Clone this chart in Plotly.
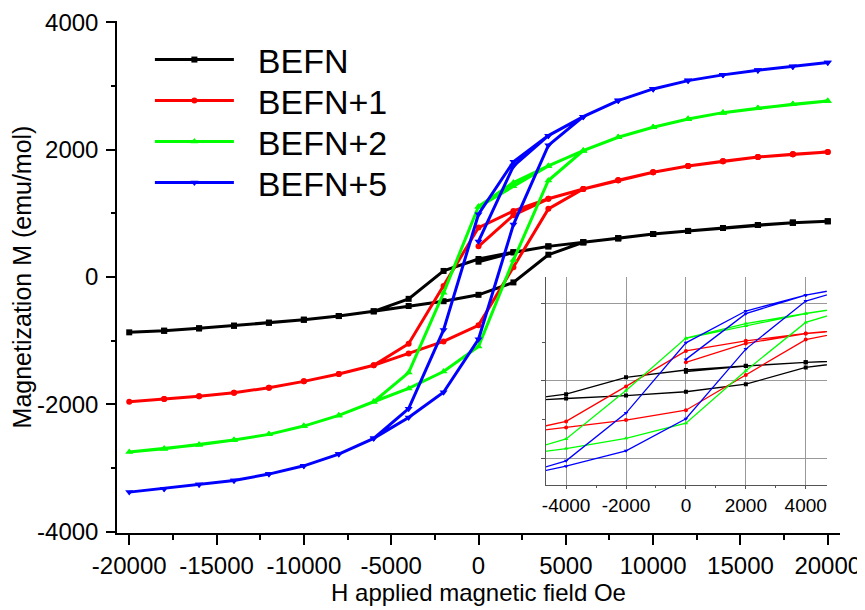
import plotly.graph_objects as go

# ---------------- data ----------------
series_names = ["BEFN", "BEFN+1", "BEFN+2", "BEFN+5"]
series_colors = ["#000000", "#ff0000", "#00ff00", "#0000ff"]
series_symbols = ["square", "circle", "triangle-up", "triangle-down"]

# field steps (Oe)
H_init = [0, 2000, 4000, 6000, 8000, 10000, 12000, 14000, 16000, 18000, 20000]
H_down = [18000, 16000, 14000, 12000, 10000, 8000, 6000, 4000, 2000, 0,
          -2000, -4000, -6000, -8000, -10000, -12000, -14000, -16000, -18000, -20000]
H_up = [-18000, -16000, -14000, -12000, -10000, -8000, -6000, -4000, -2000, 0,
        2000, 4000, 6000, 8000, 10000, 12000, 14000, 16000, 18000, 20000]

# BEFN
M0_init = [240, 386, 481, 545, 608, 675, 723, 770, 817, 853, 875]
M0_down = [853, 817, 770, 723, 675, 608, 545, 481, 390, 283,
           95, -343, -539, -613, -671, -718, -765, -806, -844, -869]
M0_up = [-844, -806, -765, -718, -671, -613, -539, -455, -380, -280,
         -85, 350, 545, 608, 675, 723, 770, 817, 853, 875]

# BEFN+1
M1_init = [481, 970, 1228, 1382, 1519, 1645, 1744, 1818, 1885, 1927, 1964]
M1_down = [1927, 1885, 1818, 1744, 1645, 1519, 1382, 1228, 1037, 776,
           -142, -1047, -1387, -1524, -1639, -1739, -1818, -1874, -1917, -1959]
M1_up = [-1917, -1874, -1818, -1739, -1639, -1524, -1387, -1202, -1012, -758,
         154, 1070, 1382, 1519, 1645, 1744, 1818, 1885, 1927, 1964]

# BEFN+2
M2_init = [1100, 1424, 1745, 1984, 2194, 2352, 2482, 2581, 2650, 2713, 2765]
M2_down = [2713, 2650, 2581, 2482, 2352, 2194, 1984, 1745, 1485, 1108,
           -249, -1501, -1959, -2173, -2341, -2471, -2561, -2634, -2697, -2749]
M2_up = [-2697, -2634, -2561, -2471, -2341, -2173, -1959, -1750, -1485, -1092,
         265, 1515, 1984, 2194, 2352, 2482, 2581, 2650, 2713, 2765]

# BEFN+5
M5_init = [558, 1742, 2220, 2518, 2770, 2953, 3084, 3174, 3247, 3304, 3367]
M5_down = [3304, 3247, 3174, 3084, 2953, 2770, 2518, 2220, 1810, 986,
           -832, -2068, -2534, -2781, -2965, -3095, -3194, -3257, -3326, -3378]
M5_up = [-3326, -3257, -3194, -3095, -2965, -2781, -2534, -2205, -1810, -978,
         824, 2067, 2518, 2770, 2953, 3084, 3174, 3247, 3304, 3367]

M_all = [
    (M0_init, M0_down, M0_up),
    (M1_init, M1_down, M1_up),
    (M2_init, M2_down, M2_up),
    (M5_init, M5_down, M5_up),
]

x_tickvals = [-20000, -15000, -10000, -5000, 0, 5000, 10000, 15000, 20000]
x_ticktext = ["-20000", "-15000", "-10000", "-5000", "0", "5000", "10000", "15000", "20000"]
y_tickvals = [-4000, -2000, 0, 2000, 4000]
y_ticktext = ["-4000", "-2000", "0", "2000", "4000"]
inset_x_tickvals = [-4000, -2000, 0, 2000, 4000]
inset_x_ticktext = ["-4000", "-2000", "0", "2000", "4000"]

FONT = "Liberation Sans, Arial, sans-serif"
NBSP = "\u00a0\u00a0"

fig = go.Figure()
H_loop = H_init + H_down + H_up
legend_ids = ["legend", "legend2", "legend3", "legend4"]

for name, color, sym, (mi, md, mu), lg in zip(series_names, series_colors, series_symbols, M_all, legend_ids):
    M_loop = mi + md + mu
    msize = 7 if sym.startswith("triangle") else 6
    fig.add_trace(go.Scatter(
        x=H_loop, y=M_loop, name=NBSP + name, mode="lines+markers",
        line=dict(color=color, width=3),
        marker=dict(symbol=sym, size=msize, color=color),
        xaxis="x", yaxis="y", legend=lg,
    ))
for name, color, sym, (mi, md, mu) in zip(series_names, series_colors, series_symbols, M_all):
    M_loop = mi + md + mu
    fig.add_trace(go.Scatter(
        x=H_loop, y=M_loop, name=name, mode="lines+markers", showlegend=False,
        line=dict(color=color, width=1.3),
        marker=dict(symbol=sym, size=4, color=color),
        xaxis="x2", yaxis="y2", cliponaxis=True,
    ))

legend_y = [0.9239, 0.8438, 0.7637, 0.6836]
leg_common = dict(
    x=0.0455, xanchor="left", yanchor="middle",
    bgcolor="rgba(0,0,0,0)", borderwidth=0,
    font=dict(family=FONT, size=34, color="black"),
    itemwidth=79,
)

# page body has an 8px margin: figure is shrunk by 8px and margins offset
fig.update_layout(
    width=857, height=602,
    margin=dict(l=109, r=25, t=13, b=77, autoexpand=False),
    paper_bgcolor="white", plot_bgcolor="white",
    font=dict(family=FONT, color="black", size=24),
    showlegend=True,
    legend=dict(y=legend_y[0], **leg_common),
    legend2=dict(y=legend_y[1], **leg_common),
    legend3=dict(y=legend_y[2], **leg_common),
    legend4=dict(y=legend_y[3], **leg_common),
    xaxis=dict(
        domain=[0, 1], range=[-20700, 20700], automargin=False,
        tickvals=x_tickvals, ticktext=x_ticktext,
        ticks="outside", ticklen=10, tickwidth=1.5, tickcolor="black",
        minor=dict(dtick=2500, tick0=0, ticks="outside", ticklen=5, tickwidth=1.5, tickcolor="black"),
        showline=True, linecolor="black", linewidth=1.5,
        showgrid=False, zeroline=False,
        tickfont=dict(size=24), ticklabelstandoff=0,
        title=dict(text="H applied magnetic field Oe", font=dict(size=24), standoff=6),
    ),
    yaxis=dict(
        domain=[0, 1], range=[-4020, 4020], automargin=False,
        tickvals=y_tickvals, ticktext=y_ticktext,
        ticks="outside", ticklen=9, tickwidth=1.5, tickcolor="black",
        minor=dict(dtick=1000, tick0=0, ticks="outside", ticklen=4, tickwidth=1.5, tickcolor="black"),
        showline=True, linecolor="black", linewidth=1.5,
        showgrid=False, zeroline=False,
        tickfont=dict(size=24), ticklabelstandoff=3,
        title=dict(text="Magnetization M (emu/mol)", font=dict(size=25), standoff=2),
    ),
    xaxis2=dict(
        domain=[0.593, 0.982], anchor="y2", range=[-4680, 4710], automargin=False,
        tickvals=inset_x_tickvals, ticktext=inset_x_ticktext,
        ticks="outside", ticklen=3, tickwidth=1, tickcolor="#555",
        minor=dict(dtick=1000, tick0=0, ticks="outside", ticklen=2, tickwidth=1, tickcolor="#555", showgrid=False),
        showline=True, linecolor="#555", linewidth=1,
        showgrid=True, gridcolor="#999999", gridwidth=1,
        zeroline=False, tickfont=dict(size=19), ticklabelstandoff=0,
    ),
    yaxis2=dict(
        domain=[0.094, 0.5], anchor="x2", range=[-2690, 2690], automargin=False,
        tickvals=[-2000, 0, 2000], showticklabels=False,
        ticks="outside", ticklen=4, tickwidth=1, tickcolor="#555",
        minor=dict(dtick=1000, tick0=0, ticks="outside", ticklen=3, tickwidth=1, tickcolor="#555", showgrid=False),
        showline=True, linecolor="#555", linewidth=1,
        showgrid=True, gridcolor="#999999", gridwidth=1,
        zeroline=False,
    ),
)

fig.write_html("out.html")
